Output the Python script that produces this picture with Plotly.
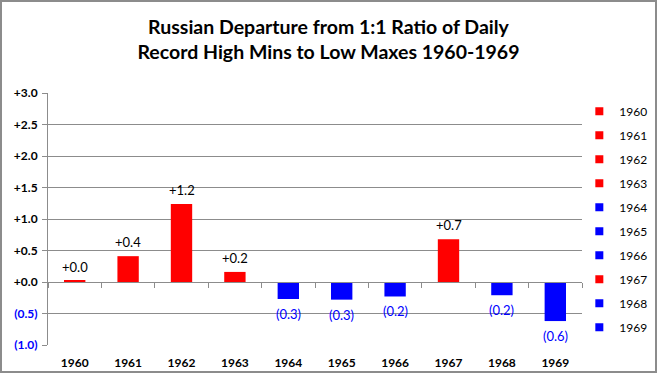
import plotly.graph_objects as go

years = ["1960", "1961", "1962", "1963", "1964", "1965", "1966", "1967", "1968", "1969"]
values = [0.02, 0.41, 1.24, 0.16, -0.27, -0.28, -0.23, 0.68, -0.21, -0.62]
labels = ["+0.0", "+0.4", "+1.2", "+0.2", "(0.3)", "(0.3)", "(0.2)", "+0.7", "(0.2)", "(0.6)"]
ytick_vals = [3.0, 2.5, 2.0, 1.5, 1.0, 0.5, 0.0, -0.5, -1.0]
ytick_text = ["+3.0", "+2.5", "+2.0", "+1.5", "+1.0", "+0.5", "+0.0", "(0.5)", "(1.0)"]

FONT = "Lato"
RED = "#FF0000"
BLUE = "#0000FF"

fig = go.Figure()
annotations = []
for i, (yr, v, lab) in enumerate(zip(years, values, labels)):
    pos = v >= 0
    fig.add_trace(go.Bar(
        x=[yr], y=[v], name=yr,
        marker=dict(color=RED if pos else BLUE, line=dict(width=0)),
        width=0.4,
        showlegend=False,
    ))
    fig.add_trace(go.Scatter(
        x=[None], y=[None], mode="markers", name=yr,
        marker=dict(symbol="square", size=8, color=RED if pos else BLUE),
        legendgroup=yr, showlegend=True,
    ))
    # category axis position = index of the category
    annotations.append(dict(
        x=i, y=v, xref="x", yref="y", text=lab, showarrow=False,
        yanchor="bottom" if pos else "top", yshift=4 if pos else -5,
        font=dict(family=FONT, size=13, color="#000000" if pos else BLUE),
    ))

yt = [f"<b>{t}</b>" if not t.startswith("(") else f"<span style='color:{BLUE}'><b>{t}</b></span>" for t in ytick_text]

fig.update_layout(
    width=657, height=373,
    margin=dict(l=48, r=75, t=93, b=28, autoexpand=False),
    paper_bgcolor="white", plot_bgcolor="white",
    barmode="overlay",
    annotations=annotations,
    title=dict(text="<b>Russian Departure from 1:1 Ratio of Daily<br>Record High Mins to Low Maxes 1960-1969</b>",
               x=0.5, xanchor="center", y=0.909, yanchor="top",
               font=dict(family=FONT, size=19.5, color="black")),
    font=dict(family=FONT, size=11, color="black"),
    showlegend=True,
    legend=dict(x=0.995, xanchor="left", y=0.985, yanchor="top",
                font=dict(family=FONT, size=12, color="black"),
                tracegroupgap=5, itemwidth=30,
                bgcolor="rgba(0,0,0,0)"),
    xaxis=dict(type="category", categoryorder="array", categoryarray=years,
               range=[-0.5, len(years) - 0.5],
               showline=False, showgrid=False, ticks="", zeroline=False,
               tickfont=dict(family=FONT, size=12, color="black"),
               tickprefix="<b>", ticksuffix="</b>",
               ticklabelstandoff=9),
    xaxis2=dict(type="category", categoryorder="array", categoryarray=years,
                range=[-0.5, len(years) - 0.5],
                overlaying="x", anchor="free", position=0.25, side="bottom",
                showline=True, linecolor="#8C8C8C", linewidth=1,
                ticks="outside", ticklen=5, tickcolor="#8C8C8C", tickson="boundaries",
                showticklabels=False, showgrid=False, zeroline=False),
    yaxis=dict(range=[-1.0, 3.0], tickvals=ytick_vals, ticktext=yt,
               showgrid=True, gridcolor="#8C8C8C", gridwidth=1,
               showline=True, linecolor="#8C8C8C", linewidth=1,
               ticks="outside", ticklen=5, tickcolor="#8C8C8C",
               zeroline=False, ticklabelstandoff=2,
               tickfont=dict(family=FONT, size=12, color="black")),
)
fig.add_trace(go.Bar(x=years, y=[None]*len(years), xaxis="x2", showlegend=False, hoverinfo="skip"))

fig.add_shape(type="rect", xref="paper", yref="paper",
              x0=-47/534, x1=(657-48-1)/534, y0=-27/252, y1=(252+93-1)/252,
              line=dict(color="#8C8C8C", width=2), fillcolor="rgba(0,0,0,0)", layer="below")

fig.write_html("out.html", config={"displayModeBar": False},
               post_script="document.body.style.margin='0';document.body.style.padding='0';")
